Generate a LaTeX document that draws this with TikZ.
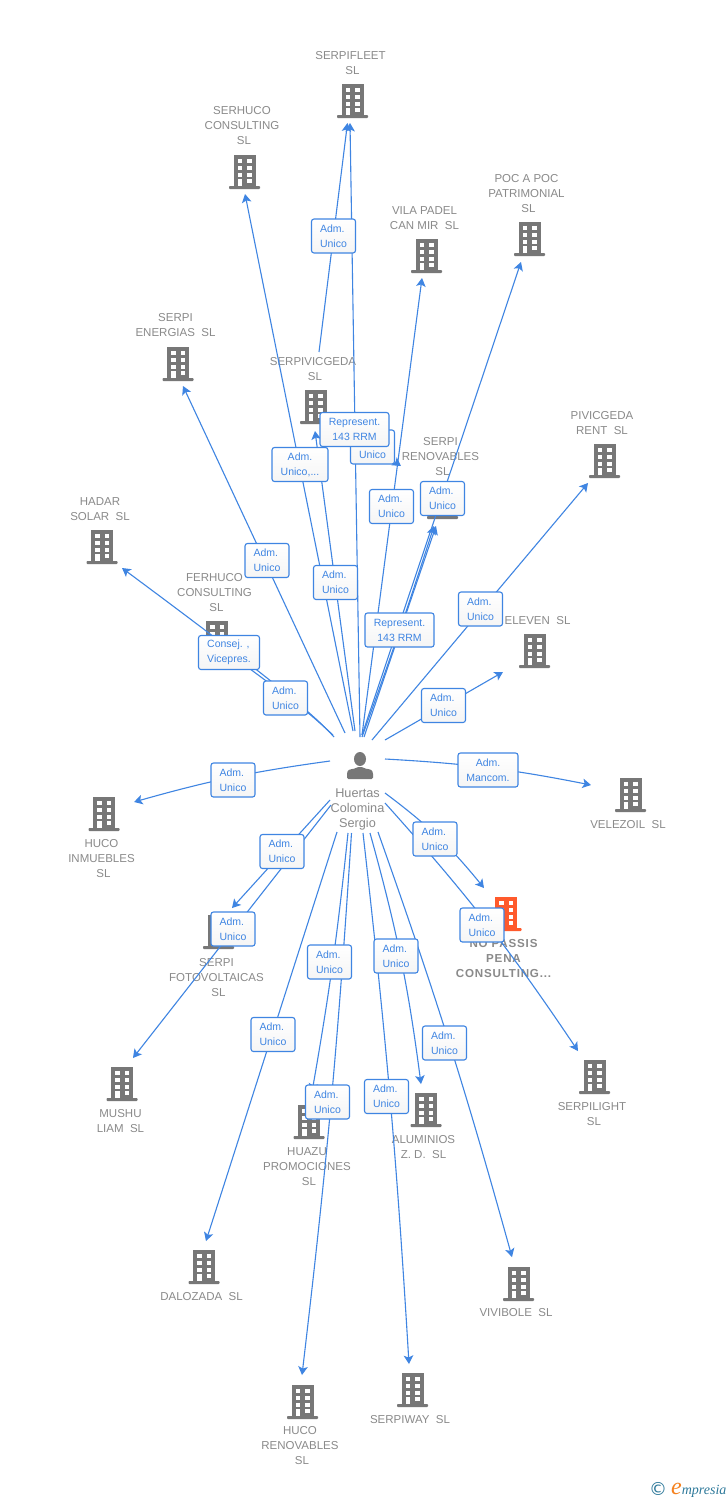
\documentclass[tikz,border=0pt]{standalone}
\usepackage{fontspec}
\setmainfont{Liberation Sans}
\newfontfamily\logofont{Liberation Serif}
\newfontfamily\symfont{DejaVu Sans}
\newfontfamily\spacedbold[LetterSpace=7,BoldFont={Liberation Sans Bold}]{Liberation Sans}
\usetikzlibrary{arrows.meta}
\definecolor{edgeblue}{HTML}{3F85E2}
\definecolor{txtgray}{HTML}{8A8A8A}
\definecolor{bldgray}{HTML}{777777}
\definecolor{bldorange}{HTML}{FF5A2C}
\definecolor{logoteal}{HTML}{2F7A9B}
\definecolor{logoorange}{HTML}{F58220}
\newcommand{\tailSL}{\hspace*{4pt}SL}
\tikzset{
  bldgicon/.pic={
    \fill[pic actions] (-11,-17) rectangle (11,14);
    \fill[pic actions,rounded corners=0.8pt] (-15.5,14) rectangle (15.5,17);
    \fill[white] (-7,-12.7) rectangle (-2.5,-8.7);
    \fill[white] (2.5,-12.7) rectangle (7,-8.7);
    \fill[white] (-7,-6) rectangle (-2.5,-2);
    \fill[white] (2.5,-6) rectangle (7,-2);
    \fill[white] (-7,0.7) rectangle (-2.5,4.7);
    \fill[white] (2.5,0.7) rectangle (7,4.7);
    \fill[white] (-7,7.3) rectangle (-2.5,14);
    \fill[white] (2.5,7.3) rectangle (7,11.3);
  },
  personicon/.pic={
    \fill[bldgray] (0,-6.5) ellipse (6 and 7);
    \fill[bldgray,rounded corners=1.5pt] (-13,13.5) -- (-13,7) .. controls (-11,3) and (-6,4) .. (-3,1.5) -- (3,1.5) .. controls (6,4) and (11,3) .. (13,7) -- (13,13.5) -- cycle;
  },
  bldg/.style={minimum width=32pt,minimum height=34pt,inner sep=0pt,outer sep=0pt},
  nametxt/.style={text=txtgray,align=center,inner sep=0pt,font=\fontsize{11.5}{15}\selectfont},
  boldtxt/.style={nametxt,font=\spacedbold\fontsize{11.6}{15}\selectfont\bfseries},
  persontxt/.style={text=txtgray,align=center,inner sep=0pt,font=\fontsize{12.7}{15}\selectfont},
  edgeline/.style={draw=edgeblue,line width=1.1pt,-{Stealth[length=8.5pt,width=9.5pt,inset=2pt]}},
  boxlbl/.style={draw=edgeblue,line width=1.1pt,rounded corners=2.5pt,top color=white,bottom color=black!4,
    text=edgeblue,minimum height=34pt,minimum width=44pt,inner sep=0pt,align=left,
    font=\fontsize{10.5}{15}\selectfont},
  boxwide/.style={boxlbl,align=center,minimum width=#1}
}
\newcommand{\building}[4][bldgray]{%
  \node[bldg] (#2) at (#3,#4) {};
  \pic[fill=#1,color=#1] at (#2.center) {bldgicon};}
\begin{document}
\begin{tikzpicture}[x=1pt,y=-1pt]
\useasboundingbox (0,0) rectangle (728,1500);
\fill[white] (0,0) rectangle (728,1500);

% buildings (centres)
\building{serpifleet}{352.5}{101}
\building{serhuco}{244.5}{172}
\building{pocapoc}{529.5}{239}
\building{vilapadel}{426.5}{256}
\building{energias}{178}{364}
\building{serpivic}{315.5}{407}
\building{pivicgeda}{604.5}{461}
\building{renovables}{442.5}{502}
\building{hadar}{102}{547}
\building{ferhuco}{217}{638}
\building{eleven}{534.5}{651}
\building{velezoil}{630.5}{795}
\building{inmuebles}{104}{814}
\building{fotovolt}{218.5}{932}
\building{mushu}{122}{1084}
\building{serpilight}{594.5}{1077}
\building{aluminios}{426}{1110}
\building{huazu}{309}{1122}
\building{dalozada}{204}{1267}
\building{vivibole}{518.5}{1284}
\building{hucoren}{302.5}{1402}
\building{serpiway}{412.5}{1390}
\building[bldorange]{nopassis}{506}{914}

% names
\node[nametxt] (tserpifleet) at (350.5,63.5) {SERPIFLEET\\\tailSL};
\node[nametxt] (tserhuco) at (242,126) {SERHUCO\\CONSULTING\\\tailSL};
\node[nametxt] (tpocapoc) at (526.5,194) {POC A POC\\PATRIMONIAL\\\tailSL};
\node[nametxt] (tvilapadel) at (424.5,218.5) {VILA PADEL\\CAN MIR\ \ SL};
\node[nametxt] (tenergias) at (175.5,325.5) {SERPI\\ENERGIAS\ \ SL};
\node[nametxt] (tserpivic) at (313,369.5) {SERPIVICGEDA\\\tailSL};
\node[nametxt] (tpivicgeda) at (602,423.5) {PIVICGEDA\\RENT\ \ SL};
\node[nametxt] (trenovables) at (440.5,457) {SERPI\\RENOVABLES\\\tailSL};
\node[nametxt] (thadar) at (100,509.5) {HADAR\\SOLAR\ \ SL};
\node[nametxt] (tferhuco) at (214.5,593) {FERHUCO\\CONSULTING\\\tailSL};
\node[nametxt] (televen) at (537.5,621) {ELEVEN\ \ SL};
\node[nametxt] (tvelezoil) at (628,825) {VELEZOIL\ \ SL};
\node[nametxt] (tinmuebles) at (101.5,859) {HUCO\\INMUEBLES\\\tailSL};
\node[nametxt] (tfotovolt) at (216.5,978) {SERPI\\FOTOVOLTAICAS\\\tailSL};
\node[nametxt] (tmushu) at (120.5,1121.5) {MUSHU\\LIAM\ \ SL};
\node[nametxt] (tserpilight) at (592,1114.5) {SERPILIGHT\\\tailSL};
\node[nametxt] (taluminios) at (423.5,1147.5) {ALUMINIOS\\Z. D.\ \ SL};
\node[nametxt] (thuazu) at (307,1167) {HUAZU\\PROMOCIONES\\\tailSL};
\node[nametxt] (tdalozada) at (201.5,1297) {DALOZADA\ \ SL};
\node[nametxt] (tvivibole) at (516,1313) {VIVIBOLE\ \ SL};
\node[nametxt] (thucoren) at (300,1446) {HUCO\\RENOVABLES\\\tailSL};
\node[nametxt] (tserpiway) at (410,1420) {SERPIWAY\ \ SL};
\node[boldtxt] (tnopassis) at (503.5,958) {NO PASSIS\\PENA\\CONSULTING...};

% person
\node[minimum width=28pt,minimum height=28pt,inner sep=0pt] (person) at (360,765.5) {};
\pic at (person.center) {personicon};
\node[persontxt] (tperson) at (357.5,809.5) {Huertas\\Colomina\\Sergio};

% connector ends
\coordinate (sa) at (319,352);  \coordinate (ea) at (347.5,123);
\coordinate (sb) at (360,737);  \coordinate (eb) at (350,123);
\coordinate (sc) at (353,731);  \coordinate (ec) at (245,194);
\coordinate (sd) at (362,735);  \coordinate (ed) at (521,262);
\coordinate (se) at (362,735);  \coordinate (ee) at (422,278);
\coordinate (sf) at (345,733);  \coordinate (ef) at (183,386);
\coordinate (sg) at (355,731);  \coordinate (eg) at (315,431);
\coordinate (sh) at (345,428);  \coordinate (eh) at (401,466);
\coordinate (si) at (362,737);  \coordinate (ei) at (434,526);
\coordinate (sj) at (364,737);  \coordinate (ej) at (436,526);
\coordinate (sk) at (372,740);  \coordinate (ek) at (588,483);
\coordinate (sl) at (385,740);  \coordinate (el) at (503,672);
\coordinate (sm) at (334,737);  \coordinate (em) at (122,568);
\coordinate (sn) at (333,735);  \coordinate (en) at (238,660);
\coordinate (so) at (385,759);  \coordinate (eo) at (591,785);
\coordinate (sp) at (330,761);  \coordinate (ep) at (134,802);
\coordinate (sq) at (330,800);  \coordinate (eq) at (232,908);
\coordinate (sr) at (331,805);  \coordinate (er) at (133,1058);
\coordinate (ss) at (337,832);  \coordinate (es) at (206,1241);
\coordinate (st) at (348,833);  \coordinate (et) at (312,1092);
\coordinate (su) at (351.5,833); \coordinate (eu) at (302,1375);
\coordinate (sv) at (363,833);  \coordinate (ev) at (409,1364);
\coordinate (sw) at (370,833);  \coordinate (ew) at (421,1084);
\coordinate (sx) at (378,832);  \coordinate (ex) at (512,1257);
\coordinate (sy) at (385,793);  \coordinate (ey) at (484,888);
\coordinate (sz) at (385,803);  \coordinate (ez) at (578,1051);
\coordinate (hm) at (312,712);  \coordinate (hn) at (258,669);
\coordinate (hk) at (308,712);

% connectors
\draw[edgeline] (sa) -- (ea);
\draw[edgeline] (sb) -- (eb);
\draw[edgeline] (sc) -- (ec);
\draw[edgeline] (sd) -- (ed);
\draw[edgeline] (se) -- (ee);
\draw[edgeline] (sf) -- (ef);
\draw[edgeline] (sg) -- (eg);
\draw[edgeline] (sh) -- (eh);
\draw[edgeline] (si) to[bend right=1] (ei);
\draw[edgeline] (sj) -- (ej);
\draw[edgeline] (sk) -- (ek);
\draw[edgeline] (sl) -- (el);
\draw[edgeline] (sm) .. controls (hm) and (hn) .. (em);
\draw[edgeline] (sn) .. controls (hk) .. (en);
\draw[edgeline] (so) to[bend left=4] (eo);
\draw[edgeline] (sp) to[bend right=4] (ep);
\draw[edgeline] (sq) -- (eq);
\draw[edgeline] (sr) -- (er);
\draw[edgeline] (ss) -- (es);
\draw[edgeline] (st) to[bend left=2] (et);
\draw[edgeline] (su) to[bend left=1.5] (eu);
\draw[edgeline] (sv) to[bend left=1.5] (ev);
\draw[edgeline] (sw) to[bend left=4] (ew);
\draw[edgeline] (sx) to[bend left=2] (ex);
\draw[edgeline] (sy) to[bend left=7] (ey);
\draw[edgeline] (sz) to[bend left=4] (ez);

% connector labels
\node[boxlbl] (la) at (333.5,236) {Adm.\\Unico};
\node[boxlbl] (lh) at (372.5,447) {Adm.\\Unico};
\node[boxwide=69pt] (lb) at (354.5,429.5) {Represent.\\143 RRM};
\node[boxwide=56pt] (lc) at (300,464.5) {Adm.\\Unico,...};
\node[boxlbl] (ld) at (442.5,498.5) {Adm.\\Unico};
\node[boxlbl] (le) at (391.5,506.5) {Adm.\\Unico};
\node[boxlbl] (lf) at (267,560.5) {Adm.\\Unico};
\node[boxlbl] (lg) at (335.5,582.5) {Adm.\\Unico};
\node[boxwide=69pt] (li) at (399.5,630) {Represent.\\143 RRM};
\node[boxlbl] (lk) at (480.5,609) {Adm.\\Unico};
\node[boxlbl] (ll) at (443.5,705.5) {Adm.\\Unico};
\node[boxlbl,minimum width=61pt] (lm) at (229,652.5) {Consej. ,\\Vicepres.};
\node[boxlbl] (ln) at (285.5,698) {Adm.\\Unico};
\node[boxwide=60pt] (lo) at (488,770) {Adm.\\Mancom.};
\node[boxlbl] (lp) at (233,780) {Adm.\\Unico};
\node[boxlbl] (lq) at (282,851.5) {Adm.\\Unico};
\node[boxlbl] (lr) at (233,929) {Adm.\\Unico};
\node[boxlbl] (ls) at (273,1034.5) {Adm.\\Unico};
\node[boxlbl] (lt) at (329.5,962) {Adm.\\Unico};
\node[boxlbl] (lu) at (327.5,1102) {Adm.\\Unico};
\node[boxlbl] (lv) at (386.5,1096.5) {Adm.\\Unico};
\node[boxlbl] (lw) at (396,956) {Adm.\\Unico};
\node[boxlbl] (lx) at (444.5,1043) {Adm.\\Unico};
\node[boxlbl] (ly) at (435,839) {Adm.\\Unico};
\node[boxlbl] (lz) at (482,925) {Adm.\\Unico};

% logo
\node[text=logoteal,inner sep=0pt,font=\symfont\fontsize{18}{18}\selectfont] (logoc) at (658,1489) {©};
\node[anchor=base west,inner sep=0pt,font=\logofont\itshape\fontsize{14}{14}\selectfont,text=logoteal] (logot) at (671,1494)
  {{\color{logoorange}\fontsize{24}{24}\selectfont e}mpresia};
\end{tikzpicture}
\end{document}
